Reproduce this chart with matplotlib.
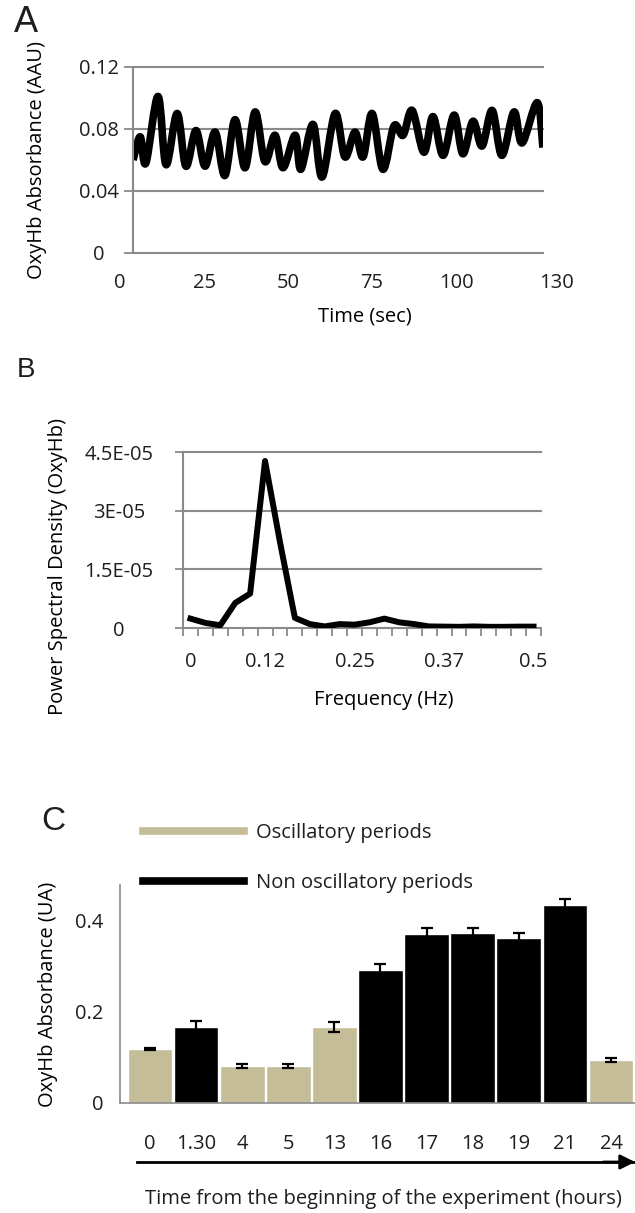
import matplotlib.pyplot as plt
from matplotlib.lines import Line2D
from matplotlib.path import Path
from matplotlib.patches import PathPatch
import numpy as np

plt.rcParams['font.family'] = ['Open Sans', 'DejaVu Sans']
plt.rcParams['font.size'] = 14.5
plt.rcParams['text.color'] = '#1e1e1e'
plt.rcParams['xtick.color'] = '#1e1e1e'
plt.rcParams['ytick.color'] = '#1e1e1e'

# Panel A: OxyHb absorbance over time (peaks / troughs)
time_sec = [3.9, 6.0, 7.7, 11.3, 13.7, 17.0, 19.6, 22.6, 25.3, 28.3, 31.2, 34.2,
            37.2, 40.2, 43.1, 46.1, 48.5, 52.1, 53.8, 57.4, 60.1, 64.0, 66.9,
            69.9, 72.3, 75.0, 78.2, 81.5, 84.2, 86.9, 90.4, 93.1, 96.1, 99.4,
            102.0, 105.0, 107.7, 110.7, 113.6, 117.2, 119.6, 124.1, 125.8]
oxyhb = [0.060, 0.075, 0.058, 0.101, 0.057, 0.090, 0.056, 0.079, 0.056, 0.078,
         0.050, 0.086, 0.055, 0.091, 0.059, 0.076, 0.055, 0.076, 0.054, 0.083,
         0.049, 0.090, 0.062, 0.078, 0.062, 0.090, 0.054, 0.082, 0.076, 0.092,
         0.065, 0.088, 0.063, 0.089, 0.064, 0.085, 0.069, 0.092, 0.063, 0.091,
         0.071, 0.097, 0.068]
a_xticks = [0, 25, 50, 75, 100, 130]

# Panel B: power spectral density
psd = [2.4e-6, 1.3e-6, 0.7e-6, 6.4e-6, 8.8e-6, 4.27e-5, 2.2e-5, 2.6e-6, 1.0e-6,
       0.4e-6, 1.0e-6, 0.85e-6, 1.45e-6, 2.4e-6, 1.45e-6, 1.0e-6, 0.4e-6,
       0.35e-6, 0.3e-6, 0.4e-6, 0.3e-6, 0.3e-6, 0.35e-6, 0.35e-6]
b_xlabels = ['0', '0.12', '0.25', '0.37', '0.5']
b_xlabel_idx = [0, 5, 11, 17, 23]
b_yticks = [0, 1.5e-5, 3e-5, 4.5e-5]
b_ylabels = ['0', '1.5E-05', '3E-05', '4.5E-05']

# Panel C: mean absorbance per period
hours = ['0', '1.30', '4', '5', '13', '16', '17', '18', '19', '21', '24']
absorb = [0.119, 0.167, 0.081, 0.081, 0.167, 0.290, 0.369, 0.371, 0.360, 0.433, 0.094]
err = [0.002, 0.013, 0.005, 0.005, 0.011, 0.015, 0.013, 0.013, 0.013, 0.013, 0.004]
oscillatory = [True, False, True, True, True, False, False, False, False, False, True]

grid_col = '#8a8a8a'
tan = '#c4bd97'

fig = plt.figure(figsize=(6.35, 12.13), dpi=100)
W, H = 635, 1213


def box(l, t, r, b):
    return [l / W, 1 - b / H, (r - l) / W, (b - t) / H]


def smooth_path(xs, ys):
    # Excel-style "smoothed line": bezier segments through every data point
    pts = np.column_stack([xs, ys])
    ext = np.vstack([pts[0], pts, pts[-1]])
    verts = [pts[0]]
    codes = [Path.MOVETO]
    for i in range(len(pts) - 1):
        p0, p1, p2, p3 = ext[i], ext[i + 1], ext[i + 2], ext[i + 3]
        verts += [p1 + (p2 - p0) / 6, p2 - (p3 - p1) / 6, p2]
        codes += [Path.CURVE4] * 3
    return Path(verts, codes)


# ---- A ----
ax = fig.add_axes(box(133, 67, 543, 253))
ax.add_patch(PathPatch(smooth_path(time_sec, oxyhb), fill=False, edgecolor='black',
                       lw=5.5, joinstyle='round', capstyle='butt'))
ax.set_xlim(3.87, 125.83)
ax.set_ylim(0, 0.12)
for v in [0, 0.04, 0.08, 0.12]:
    ax.axhline(v, color=grid_col, lw=1.5, clip_on=False, zorder=0)
ax.set_yticks([0, 0.04, 0.08, 0.12], ['0', '0.04', '0.08', '0.12'])
for lab in ax.get_yticklabels():
    lab.set_horizontalalignment('center')
ax.tick_params(axis='y', length=6.5, width=1.3, color=grid_col, pad=18)
ax.set_xticks([])
for t in a_xticks:
    ax.text(t, -0.16, str(t), transform=ax.get_xaxis_transform(),
            ha='center', va='center')
for s in ['top', 'right', 'bottom']:
    ax.spines[s].set_visible(False)
ax.spines['left'].set_color(grid_col)
ax.spines['left'].set_linewidth(1.5)
ax.set_ylabel('OxyHb Absorbance (AAU)')
ax.yaxis.set_label_coords(-0.21, 0.5)
ax.set_xlabel('Time (sec)')
ax.xaxis.set_label_coords(0.566, -0.285)

# ---- B ----
ax = fig.add_axes(box(183, 452, 541, 628))
idx = np.arange(len(psd))
ax.plot(idx, psd, color='black', lw=4.3, solid_joinstyle='round')
ax.set_xlim(-0.5, len(psd) - 0.5)
ax.set_ylim(0, 4.5e-5)
for v in b_yticks:
    ax.axhline(v, color=grid_col, lw=1.5, clip_on=False, zorder=0)
ax.set_yticks(b_yticks, b_ylabels)
for lab in ax.get_yticklabels():
    lab.set_horizontalalignment('center')
ax.tick_params(axis='y', length=6, width=1.3, color=grid_col, pad=40)
ax.set_xticks(b_xlabel_idx, b_xlabels)
ax.set_xticks(np.arange(len(psd) + 1) - 0.5, minor=True)
ax.tick_params(axis='x', which='major', length=0, pad=17)
ax.tick_params(axis='x', which='minor', length=6, width=1.3, color=grid_col)
for s in ['top', 'right', 'bottom']:
    ax.spines[s].set_visible(False)
ax.spines['left'].set_color(grid_col)
ax.spines['left'].set_linewidth(1.5)
ax.set_ylabel('Power Spectral Density (OxyHb)')
ax.yaxis.set_label_coords(-0.32, 0.35)
ax.set_xlabel('Frequency (Hz)')
ax.xaxis.set_label_coords(0.56, -0.35)

# ---- C ----
ax = fig.add_axes(box(120, 885, 635, 1103))
xc = np.arange(len(hours))
colors = [tan if o else 'black' for o in oscillatory]
ax.bar(xc, absorb, width=0.97, color=colors, edgecolor='white', linewidth=1)
ax.errorbar(xc, absorb, yerr=err, fmt='none', ecolor='black', elinewidth=1.6,
            capsize=4, capthick=1.6)
ax.set_xlim(-0.65, 10.52)
ax.set_ylim(0, 0.477)
ax.set_yticks([0, 0.2, 0.4], ['0', '0.2', '0.4'])
ax.tick_params(axis='y', length=0, pad=12)
ax.set_xticks(xc, hours)
ax.tick_params(axis='x', length=0, pad=22)
for s in ['top', 'right']:
    ax.spines[s].set_visible(False)
for s in ['left', 'bottom']:
    ax.spines[s].set_color(grid_col)
    ax.spines[s].set_linewidth(1.2)
ax.set_ylabel('OxyHb Absorbance (UA)')
ax.yaxis.set_label_coords(-0.12, 0.5)

handles = [Line2D([], [], color=tan, lw=5.5, label='Oscillatory periods'),
           Line2D([], [], color='black', lw=5.5, label='Non oscillatory periods')]
fig.legend(handles=handles, loc='upper left', bbox_to_anchor=(143 / W, 1 - 823 / H),
           frameon=False, handlelength=5.0, handletextpad=0.6, labelspacing=1.5,
           borderpad=0, borderaxespad=0, fontsize=14.5)

fig.add_artist(plt.Line2D([137 / W, 1.0], [1 - 1162 / H] * 2, color='black', lw=2))
ax.annotate('', xy=(1.0, 1 - 1162 / H), xytext=(0.95, 1 - 1162 / H),
            xycoords='figure fraction',
            arrowprops=dict(arrowstyle='-|>', color='black', lw=2,
                            mutation_scale=22, shrinkA=0, shrinkB=0))
fig.text(383 / W, 1 - 1199 / H, 'Time from the beginning of the experiment (hours)',
         ha='center', va='center', fontsize=14.5)

for letter, x, y, size in [('A', 26, 23, 26), ('B', 26, 370, 20), ('C', 53, 822, 24)]:
    fig.text(x / W, 1 - y / H, letter, ha='center', va='center', fontsize=size,
             family='Liberation Sans')

fig.savefig('out.png', dpi=100)
